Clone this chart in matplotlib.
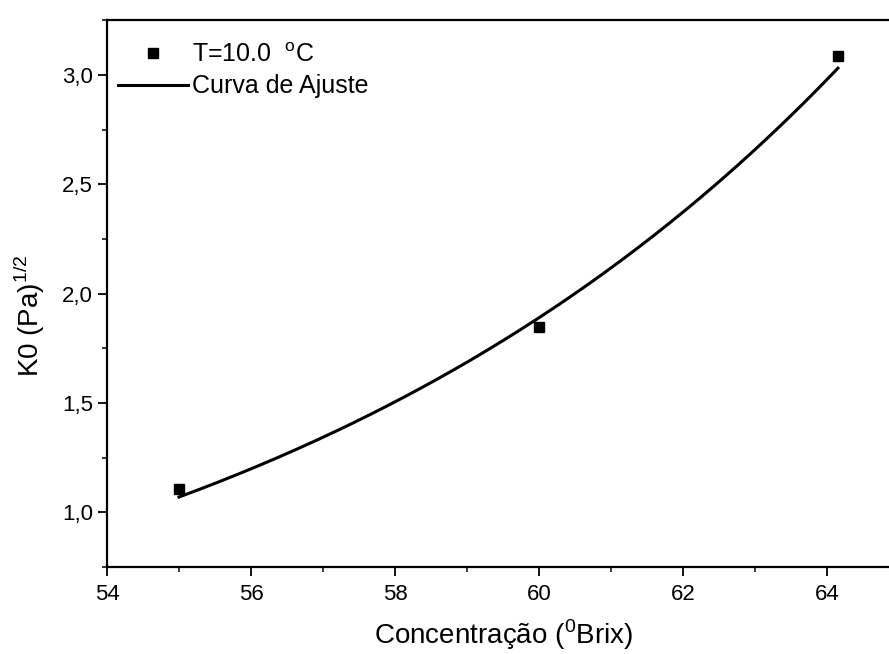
import matplotlib.pyplot as plt
import numpy as np
from matplotlib.ticker import MultipleLocator, FuncFormatter

plt.rcParams['font.family'] = ['Liberation Sans', 'DejaVu Sans']
plt.rcParams['mathtext.fontset'] = 'custom'
plt.rcParams['mathtext.rm'] = 'Liberation Sans'

# measured points
conc = [55.0, 60.0, 64.15]
k0 = [1.105, 1.847, 3.087]

# fitted curve y = a*exp(b*(x - x0)), parameters
fit_a = 1.07
fit_b = 0.1138
fit_x0 = 55.0
fit_range = [55.0, 64.15]

x_ticks = [54, 56, 58, 60, 62, 64]
y_ticks = [1.0, 1.5, 2.0, 2.5, 3.0]

fig = plt.figure(figsize=(8.89, 6.54), dpi=100)
ax = fig.add_axes([0.1204, 0.133, 0.891, 0.836])

xs = np.linspace(fit_range[0], fit_range[1], 200)
ax.plot(conc, k0, 's', color='black', markersize=7.5, label=r'T=10.0  $^\mathregular{o}$C')
ax.plot(xs, fit_a * np.exp(fit_b * (xs - fit_x0)), color='black', linewidth=2.2,
        label='Curva de Ajuste')

ax.set_xlim(54, 65)
ax.set_ylim(0.75, 3.25)
ax.set_xticks(x_ticks)
ax.set_yticks(y_ticks)
ax.xaxis.set_minor_locator(MultipleLocator(1))
ax.yaxis.set_minor_locator(MultipleLocator(0.25))
ax.yaxis.set_major_formatter(FuncFormatter(lambda v, p: f'{v:.1f}'.replace('.', ',')))
ax.tick_params(which='major', direction='out', length=6.5, width=1.3, labelsize=16)
ax.tick_params(axis='x', which='major', pad=6)
ax.tick_params(which='minor', direction='out', length=3.5, width=1.1)
for s in ax.spines.values():
    s.set_linewidth(1.6)

ax.set_xlabel(r'Concentração ($^\mathregular{0}$Brix)', fontsize=20, labelpad=9)
ax.set_ylabel(r'K0 (Pa)$^\mathregular{1/2}$', fontsize=20)
ax.yaxis.set_label_coords(-0.076, 0.46)

ax.legend(loc='upper left', frameon=False, fontsize=18, handlelength=2.8,
          handletextpad=0.15, labelspacing=0.3, borderpad=0, borderaxespad=0,
          bbox_to_anchor=(118 / 889, 1 - 43 / 654), bbox_transform=fig.transFigure)

fig.savefig('out.png', dpi=100)
